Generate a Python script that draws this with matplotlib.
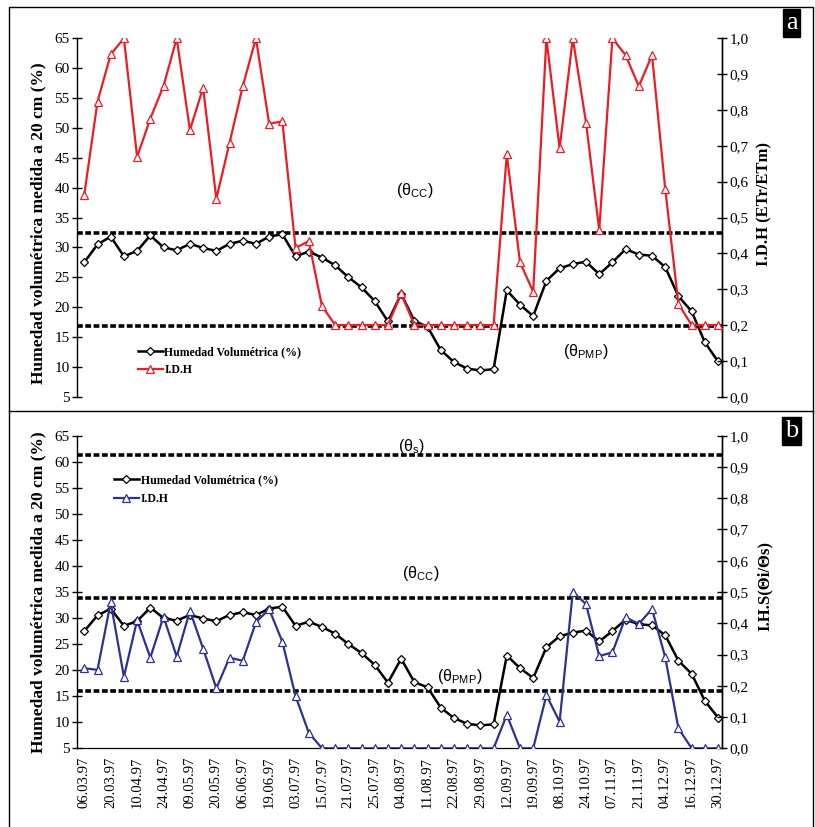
import numpy as np
import matplotlib
matplotlib.use("Agg")
import matplotlib.pyplot as plt
from matplotlib.lines import Line2D
from matplotlib.patches import Rectangle
import matplotlib.ticker as ticker

plt.rcParams['font.family'] = ['Liberation Serif', 'DejaVu Serif']

# fechas de muestreo (una etiqueta cada dos mediciones)
fechas = ['06.03.97', '20.03.97', '10.04.97', '24.04.97', '09.05.97', '20.05.97',
          '06.06.97', '19.06.97', '03.07.97', '15.07.97', '21.07.97', '25.07.97',
          '04.08.97', '11.08.97', '22.08.97', '29.08.97', '12.09.97', '19.09.97',
          '08.10.97', '24.10.97', '07.11.97', '21.11.97', '04.12.97', '16.12.97',
          '30.12.97']

# humedad volumetrica medida a 20 cm (%)
humedad = [27.5, 30.5, 31.8, 28.5, 29.4, 32.0, 30.0, 29.5, 30.6, 29.9,
           29.4, 30.6, 31.1, 30.6, 31.8, 32.2, 28.5, 29.3, 28.3, 27.0,
           25.0, 23.3, 21.0, 17.6, 22.2, 17.7, 16.7, 12.8, 10.8, 9.7,
           9.4, 9.6, 22.8, 20.4, 18.5, 24.4, 26.5, 27.2, 27.6, 25.5,
           27.5, 29.7, 28.8, 28.6, 26.7, 21.8, 19.3, 14.1, 10.9]

# indice de deficit hidrico ETr/ETm
idh = [0.564, 0.823, 0.955, 1.0, 0.669, 0.776, 0.867, 1.0, 0.744, 0.862,
       0.552, 0.708, 0.866, 1.0, 0.762, 0.768, 0.415, 0.434, 0.253, 0.2,
       0.2, 0.2, 0.2, 0.2, 0.288, 0.2, 0.2, 0.2, 0.2, 0.2,
       0.2, 0.2, 0.676, 0.375, 0.293, 1.0, 0.693, 1.0, 0.765, 0.465,
       1.0, 0.953, 0.866, 0.953, 0.580, 0.259, 0.2, 0.2, 0.2]

# indice de humedad del suelo Oi/Os
ihs = [0.256, 0.251, 0.467, 0.229, 0.410, 0.290, 0.421, 0.293, 0.440, 0.319,
       0.192, 0.290, 0.280, 0.403, 0.445, 0.341, 0.167, 0.050, 0.0, 0.0,
       0.0, 0.0, 0.0, 0.0, 0.0, 0.0, 0.0, 0.0, 0.0, 0.0,
       0.0, 0.0, 0.107, 0.0, 0.0, 0.170, 0.085, 0.501, 0.461, 0.295,
       0.307, 0.419, 0.398, 0.446, 0.291, 0.064, 0.0, 0.0, 0.0]

# umbrales (theta)
cc_a, pmp_a = 32.4, 16.9
s_b, cc_b, pmp_b = 61.3, 33.8, 16.0

x = np.arange(len(humedad))
ROJO = '#ED1C24'
AZUL = '#2E3192'
dots = (0, (1.6, 0.7))
sans = ['Liberation Sans', 'DejaVu Sans']

fig = plt.figure(figsize=(8.15, 8.27), dpi=100)

def panel(rect, serie, color, etiqueta_der, umbrales, textos, leyenda_pos, letra, eje_x):
    ax = fig.add_axes(rect)
    ax2 = ax.twinx()
    ax.set_zorder(1)
    ax2.set_zorder(2)
    ax.patch.set_visible(False)
    ax2.patch.set_visible(False)

    ax.set_xlim(-0.53, 48.3)
    ax.set_ylim(5, 65)
    ax2.set_ylim(0, 1)
    ax.set_yticks(range(5, 70, 5))
    ax2.set_yticks(np.arange(0, 1.01, 0.1))
    ax2.yaxis.set_major_formatter(ticker.FuncFormatter(lambda v, p: ('%.1f' % v).replace('.', ',')))

    for u in umbrales:
        ax.axhline(u, color='black', lw=2.6, ls=dots, zorder=1)

    l1, = ax.plot(x, humedad, color='black', lw=1.8, marker='D', ms=4,
                  mfc='white', mec='black', mew=0.9, zorder=3)
    l2, = ax2.plot(x, serie, color=color, lw=1.6, marker='^', ms=5.5,
                   mfc='white', mec=color, mew=0.9, zorder=3)

    for t, xi, yi in textos:
        ax.text(xi, yi, t, family=sans, fontsize=11.5, ha='center', va='center')

    for a in (ax, ax2):
        a.spines['top'].set_visible(False)
        a.spines['bottom'].set_visible(eje_x)
        a.spines['left'].set_linewidth(1.0)
        a.spines['right'].set_linewidth(1.0)
    ax2.spines['left'].set_visible(False)

    ax.tick_params(axis='y', direction='inout', length=7, width=1, labelsize=11, pad=2)
    ax2.tick_params(axis='y', direction='inout', length=7, width=1, labelsize=11, pad=2)

    if eje_x:
        ax.set_xticks(np.arange(-0.5, 48.5, 1.0))
        ax.set_xticklabels([])
        ax.set_xticks(x[::2], minor=True)
        ax.set_xticklabels(fechas, minor=True, rotation=90, fontsize=10.5)
        ax.tick_params(axis='x', which='major', direction='inout', length=8, width=1)
        ax.tick_params(axis='x', which='minor', length=0, pad=6)
    else:
        ax.set_xticks([])

    ax2.set_xticks([])

    ax.text(-0.06, 0.5 if eje_x else 0.485, 'Humedad volumétrica medida a 20 cm (%)',
            transform=ax.transAxes, rotation=90, ha='center', va='center',
            fontsize=12.5, fontweight='bold')
    ax.text(1.066, 0.52 if eje_x else 0.538, etiqueta_der, transform=ax.transAxes,
            rotation=90, ha='center', va='center', fontsize=12, fontweight='bold')

    ax2.legend([l1, l2], ['Humedad Volumétrica (%)', 'I.D.H'], loc='upper left',
               bbox_to_anchor=leyenda_pos, frameon=False, numpoints=1,
               handlelength=2.1, handletextpad=0.15, borderpad=0, borderaxespad=0,
               labelspacing=0.55, prop={'weight': 'bold', 'size': 8.5})

    fig.text(letra[0], letra[1], letra[2], color='white', fontsize=19, ha='center', va='center',
             bbox=dict(boxstyle='square,pad=0.12', fc='black', ec='black'))
    return ax

panel([77.3 / 815, 1 - 396.7 / 827, 644.7 / 815, 358.4 / 827], idh, ROJO,
      'I.D.H (ETr/ETm)', [cc_a, pmp_a],
      [('(θ$_{\\mathregular{CC}}$)', 25.05, 39.6),
       ('(θ$_{\\mathregular{PMP}}$)', 38.0, 12.5)],
      (0.094, 0.142), (791.5 / 815, 1 - 23 / 827, 'a'), False)

panel([77.3 / 815, 1 - 748.3 / 827, 644.7 / 815, 312.6 / 827], ihs, AZUL,
      'I.H.S(Θi/Θs)', [s_b, cc_b, pmp_b],
      [('(θ$_{\\mathregular{s}}$)', 24.8, 63.0),
       ('(θ$_{\\mathregular{CC}}$)', 25.5, 38.6),
       ('(θ$_{\\mathregular{PMP}}$)', 28.4, 18.7)],
      (0.057, 0.877), (791.5 / 815, 1 - 431 / 827, 'b'), True)

# marcos de los paneles
fig.add_artist(Rectangle((8.5 / 815, -0.01), (813.3 - 8.5) / 815, 1.01 - 7.3 / 827,
                         transform=fig.transFigure, fill=False, ec='black', lw=1.0))
fig.add_artist(Line2D([8.5 / 815, 813.3 / 815], [1 - 411 / 827, 1 - 411 / 827],
                      transform=fig.transFigure, color='black', lw=1.0))

plt.savefig('out.png', dpi=100)
